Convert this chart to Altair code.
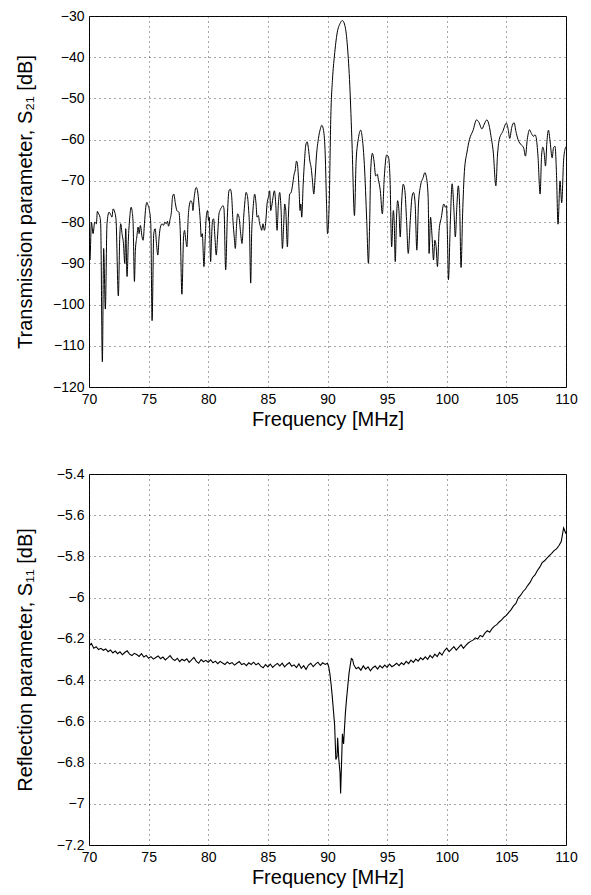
import altair as alt
import numpy as np
import pandas as pd

# ---------------- data ----------------
s21_freq = [
    70.00, 70.08, 70.20, 70.34, 70.48, 70.62, 70.70, 70.81, 70.92, 70.98,
    71.12, 71.23, 71.37, 71.51, 71.68, 71.82, 71.93, 72.02, 72.16, 72.27,
    72.46, 72.58, 72.66, 72.77, 72.89, 73.00, 73.08, 73.19, 73.31, 73.42,
    73.53, 73.61, 73.70, 73.81, 73.89, 74.01, 74.12, 74.20, 74.31, 74.45,
    74.54, 74.65, 74.76, 74.85, 74.96, 75.07, 75.18, 75.29, 75.43, 75.55,
    75.66, 75.77, 75.88, 75.99, 76.13, 76.25, 76.36, 76.47, 76.58, 76.67,
    76.78, 76.92, 77.00, 77.11, 77.25, 77.37, 77.54, 77.65, 77.79, 77.93,
    78.01, 78.12, 78.21, 78.32, 78.43, 78.54, 78.66, 78.71, 78.82, 78.99,
    79.10, 79.22, 79.33, 79.41, 79.50, 79.64, 79.75, 79.83, 79.94, 80.03,
    80.08, 80.20, 80.28, 80.36, 80.45, 80.56, 80.67, 80.78, 80.90, 80.98,
    81.12, 81.23, 81.32, 81.46, 81.60, 81.74, 81.85, 81.96, 82.07, 82.18,
    82.27, 82.38, 82.46, 82.58, 82.72, 82.83, 82.97, 83.08, 83.17, 83.28,
    83.39, 83.45, 83.56, 83.64, 83.73, 83.81, 83.89, 84.01, 84.09, 84.20,
    84.31, 84.40, 84.48, 84.59, 84.71, 84.82, 84.93, 85.04, 85.15, 85.24,
    85.35, 85.43, 85.55, 85.66, 85.77, 85.88, 85.99, 86.11, 86.22, 86.33,
    86.41, 86.50, 86.64, 86.72, 86.83, 86.95, 87.06, 87.20, 87.28, 87.40,
    87.48, 87.62, 87.70, 87.76, 87.84, 87.96, 88.07, 88.18, 88.29, 88.40,
    88.52, 88.63, 88.74, 88.85, 88.96, 89.08, 89.24, 89.41, 89.52, 89.67,
    89.81, 89.92, 90.00, 90.14, 90.28, 90.42, 90.58, 90.81, 91.06, 91.25,
    91.48, 91.67, 91.87, 92.06, 92.26, 92.40, 92.59, 92.79, 92.92, 93.09,
    93.29, 93.43, 93.54, 93.62, 93.76, 93.90, 94.04, 94.18, 94.26, 94.43,
    94.60, 94.76, 94.96, 95.10, 95.24, 95.38, 95.52, 95.60, 95.68, 95.79,
    95.88, 95.99, 96.10, 96.21, 96.35, 96.49, 96.63, 96.77, 96.94, 97.08,
    97.21, 97.35, 97.49, 97.63, 97.80, 98.02, 98.16, 98.30, 98.44, 98.52,
    98.64, 98.77, 98.89, 99.00, 99.11, 99.22, 99.36, 99.55, 99.75, 99.89,
    99.97, 100.06, 100.14, 100.30, 100.45, 100.60, 100.72, 100.85, 100.97, 101.08,
    101.20, 101.33, 101.48, 101.70, 101.90, 102.20, 102.50, 102.70, 102.95, 103.15,
    103.36, 103.55, 103.70, 103.90, 104.12, 104.25, 104.40, 104.70, 105.00, 105.15,
    105.28, 105.45, 105.65, 105.80, 105.98, 106.26, 106.45, 106.60, 106.75, 106.94,
    107.10, 107.28, 107.40, 107.50, 107.65, 107.83, 107.95, 108.06, 108.18, 108.28,
    108.40, 108.53, 108.65, 108.84, 108.95, 109.08, 109.20, 109.33, 109.50, 109.64,
    109.80, 109.95, 110.00,
]
s21_db = [
    -84.4, -89.2, -80.0, -82.8, -80.0, -80.4, -77.4, -78.0, -78.8, -80.4,
    -113.9, -86.4, -101.1, -80.4, -77.6, -78.2, -78.8, -76.8, -77.6, -79.6,
    -97.9, -83.6, -80.4, -82.8, -85.2, -90.0, -81.6, -93.2, -83.6, -78.8,
    -76.4, -77.2, -80.4, -94.4, -86.8, -83.6, -81.2, -82.8, -80.8, -83.6,
    -84.4, -80.4, -76.4, -75.2, -76.0, -77.2, -80.4, -103.9, -82.8, -81.6,
    -85.2, -88.0, -83.6, -81.2, -80.4, -80.8, -80.0, -80.4, -79.8, -81.0,
    -79.6, -77.2, -74.0, -73.2, -75.6, -77.2, -77.6, -82.0, -97.5, -83.6,
    -82.0, -84.4, -86.0, -78.8, -75.6, -74.8, -75.6, -77.2, -74.0, -71.6,
    -72.4, -75.6, -79.6, -83.6, -82.8, -90.8, -83.6, -78.8, -77.2, -79.6,
    -78.8, -89.6, -83.6, -79.6, -79.2, -83.6, -88.0, -83.6, -78.0, -77.2,
    -76.4, -76.0, -76.8, -91.6, -78.8, -72.4, -72.0, -73.6, -79.6, -83.6,
    -86.4, -80.4, -78.0, -78.8, -82.8, -85.2, -78.8, -74.8, -72.8, -73.6,
    -77.2, -80.4, -94.8, -82.8, -78.0, -74.8, -73.2, -75.6, -78.8, -78.4,
    -80.4, -81.2, -82.0, -80.4, -82.0, -80.0, -75.6, -74.0, -72.4, -77.2,
    -75.6, -74.0, -72.4, -75.6, -82.0, -75.6, -72.8, -77.2, -86.4, -80.4,
    -75.6, -77.2, -86.0, -78.8, -73.2, -72.8, -71.2, -68.4, -67.6, -65.2,
    -66.0, -72.4, -77.2, -75.6, -78.8, -70.8, -65.2, -61.3, -60.5, -62.1,
    -65.2, -66.8, -70.0, -73.2, -69.2, -63.7, -59.7, -57.3, -56.5, -57.8,
    -63.7, -75.7, -82.8, -75.7, -54.1, -45.3, -39.7, -34.1, -31.8, -31.1,
    -32.6, -37.3, -46.9, -61.3, -78.4, -65.2, -59.7, -57.7, -59.7, -66.0,
    -79.6, -90.0, -79.6, -67.6, -63.3, -65.2, -68.8, -68.4, -69.6, -72.4,
    -78.0, -69.2, -63.7, -64.1, -69.2, -86.0, -77.2, -80.4, -89.6, -78.8,
    -74.8, -77.2, -83.6, -75.6, -70.8, -72.4, -79.6, -87.6, -79.6, -74.0,
    -72.8, -75.6, -86.8, -75.6, -71.2, -69.2, -68.0, -69.2, -74.0, -87.6,
    -78.8, -83.6, -89.2, -84.4, -86.0, -90.8, -82.0, -78.8, -75.6, -76.4,
    -76.0, -83.6, -94.0, -80.0, -70.7, -77.0, -83.6, -76.0, -71.2, -76.0,
    -91.0, -78.0, -67.7, -63.0, -60.0, -57.8, -55.2, -55.8, -57.4, -56.2,
    -55.2, -56.5, -59.0, -63.0, -71.2, -64.0, -60.0, -58.0, -56.0, -57.5,
    -59.7, -57.0, -55.9, -58.0, -60.0, -61.3, -62.0, -64.0, -60.0, -57.6,
    -58.5, -59.2, -58.8, -59.5, -64.0, -73.2, -64.0, -61.8, -63.5, -66.4,
    -60.5, -57.7, -60.0, -64.4, -62.0, -61.6, -68.0, -80.5, -70.0, -75.3,
    -65.0, -62.0, -61.7,
]

# S11: 70.0 .. 90.0 every 0.2 MHz
s11_low_db = [
    -6.235, -6.222, -6.245, -6.238, -6.252, -6.246, -6.255, -6.249, -6.262, -6.254,
    -6.268, -6.259, -6.272, -6.263, -6.277, -6.266, -6.258, -6.274, -6.281, -6.270,
    -6.276, -6.285, -6.272, -6.288, -6.280, -6.294, -6.286, -6.298, -6.290, -6.283,
    -6.296, -6.288, -6.302, -6.292, -6.281, -6.297, -6.305, -6.294, -6.310, -6.299,
    -6.306, -6.297, -6.314, -6.302, -6.290, -6.309, -6.318, -6.300, -6.311, -6.304,
    -6.313, -6.302, -6.316, -6.308, -6.320, -6.309, -6.317, -6.324, -6.312, -6.321,
    -6.315, -6.327, -6.318, -6.310, -6.325, -6.319, -6.330, -6.316, -6.324, -6.313,
    -6.326, -6.318, -6.332, -6.340, -6.325, -6.336, -6.322, -6.338, -6.327, -6.319,
    -6.331, -6.318, -6.336, -6.324, -6.315, -6.333, -6.326, -6.339, -6.321, -6.343,
    -6.330, -6.348, -6.327, -6.318, -6.335, -6.322, -6.313, -6.329, -6.316, -6.324,
    -6.318,
]
# S11 dip around the passband
s11_dip_freq = [90.1, 90.2, 90.3, 90.4, 90.5, 90.6, 90.7, 90.8, 90.85, 90.95,
                91.05, 91.1, 91.2, 91.25, 91.35, 91.5, 91.6, 91.7, 91.8, 91.9,
                92.0, 92.1]
s11_dip_db = [-6.335, -6.37, -6.42, -6.48, -6.55, -6.62, -6.785, -6.77, -6.68, -6.785,
              -6.85, -6.95, -6.76, -6.66, -6.71, -6.56, -6.49, -6.43, -6.37, -6.33,
              -6.295, -6.30]
# S11: 92.2 .. 110.0 every 0.2 MHz
s11_high_db = [
    -6.325, -6.345, -6.338, -6.352, -6.331, -6.347, -6.336, -6.355, -6.340, -6.332,
    -6.346, -6.330, -6.341, -6.327, -6.338, -6.322, -6.335, -6.328, -6.318, -6.330,
    -6.316, -6.325, -6.309, -6.320, -6.303, -6.314, -6.298, -6.308, -6.292, -6.301,
    -6.287, -6.299, -6.280, -6.292, -6.274, -6.286, -6.266, -6.279, -6.258, -6.245,
    -6.262, -6.250, -6.238, -6.254, -6.241, -6.228, -6.246, -6.232, -6.220, -6.212,
    -6.206, -6.195, -6.201, -6.183, -6.190, -6.172, -6.160, -6.168, -6.150, -6.138,
    -6.131, -6.118, -6.108, -6.095, -6.086, -6.071, -6.058, -6.040, -6.028, -6.001,
    -5.988, -5.970, -5.958, -5.940, -5.925, -5.902, -5.890, -5.868, -5.852, -5.830,
    -5.821, -5.808, -5.796, -5.785, -5.772, -5.763, -5.748, -5.728, -5.662, -5.690,
]

x_ticks = [70, 75, 80, 85, 90, 95, 100, 105, 110]
s21_ticks = [-120, -110, -100, -90, -80, -70, -60, -50, -40, -30]
s11_ticks = [-7.2, -7.0, -6.8, -6.6, -6.4, -6.2, -6.0, -5.8, -5.6, -5.4]

# ---------------- tables ----------------
df21 = pd.DataFrame({"f": s21_freq, "db": s21_db})
low_f = np.round(70 + 0.2 * np.arange(len(s11_low_db)), 2)
high_f = np.round(92.2 + 0.2 * np.arange(len(s11_high_db)), 2)
df11 = pd.DataFrame({
    "f": list(low_f) + s11_dip_freq + list(high_f),
    "db": s11_low_db + s11_dip_db + s11_high_db,
})

FONT = "Liberation Sans"
W, H = 477, 371
GRID = dict(gridColor="#222", gridDash=[1, 4], gridWidth=1, gridOpacity=0.8)
TEXT = dict(labelFont=FONT, titleFont=FONT, labelColor="black", titleColor="black",
            titleFontWeight="normal", labelFontSize=14, titleFontSize=20)


def x_axis():
    return alt.Axis(values=x_ticks, title="Frequency [MHz]", grid=True, ticks=False,
                    domain=False, labelFlush=False, labelOverlap=False,
                    labelPadding=5, titlePadding=3, **TEXT, **GRID)


def y_axis(title, values, tpad):
    return alt.Axis(values=values, title=title, grid=True, ticks=False, domain=False,
                    labelExpr="format(datum.value, '~r')", labelOverlap=False,
                    labelPadding=5, titlePadding=tpad, **TEXT, **GRID)


top = alt.Chart(df21).mark_line(color="black", strokeWidth=1, interpolate="monotone",
                                clip=True).encode(
    x=alt.X("f:Q", scale=alt.Scale(domain=[70, 110], nice=False, zero=False), axis=x_axis()),
    y=alt.Y("db:Q", scale=alt.Scale(domain=[-120, -30], nice=False, zero=False),
            axis=y_axis("Transmission parameter, S\u2082\u2081 [dB]", s21_ticks, 17)),
).properties(width=W, height=H)

bottom = alt.Chart(df11).mark_line(color="black", strokeWidth=1.1, clip=True).encode(
    x=alt.X("f:Q", scale=alt.Scale(domain=[70, 110], nice=False, zero=False), axis=x_axis()),
    y=alt.Y("db:Q", scale=alt.Scale(domain=[-7.2, -5.4], nice=False, zero=False),
            axis=y_axis("Reflection parameter, S\u2081\u2081 [dB]", s11_ticks, 21)),
).properties(width=W, height=H)

chart = alt.vconcat(top, bottom, spacing=36).configure_view(
    stroke="black", strokeWidth=1
).properties(padding={"left": 6, "top": 0, "right": 0, "bottom": 0}, background="white")

chart.save("out.html", embed_options={"renderer": "svg", "actions": False})
